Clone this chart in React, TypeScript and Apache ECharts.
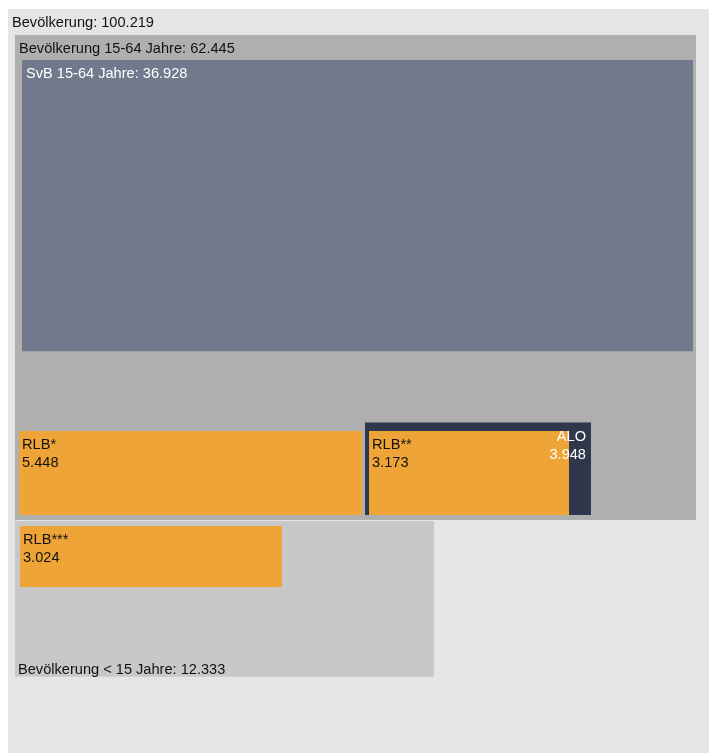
import React, { useEffect, useRef } from "react";
import * as echarts from "echarts";

// ---- data ----
const names = [
  "Bevölkerung",
  "Bevölkerung 15-64 Jahre",
  "SvB 15-64 Jahre",
  "RLB*",
  "ALO",
  "RLB**",
  "Bevölkerung < 15 Jahre",
  "RLB***",
];
const values = [100.219, 62.445, 36.928, 5.448, 3.948, 3.173, 12.333, 3.024];

// ---- layout (grid px units): left, top, width; height derives from value ----
const AREA_PER_UNIT = 5290; // px² per value unit
const lefts = [0, 7, 14, 11, 357, 361, 7, 12];
const tops = [0, 26, 51, 422, 413.5, 422, 512, 517];
const widths = [701, 681, 671, 343, 226, 200, 419, 262];
// label modes: "inline-tl" = "name: value" top-left, "inline-bl" bottom-left, "stack-tl" two lines top-left, "stack-tr" two lines top-right
const labelModes = ["inline-tl", "inline-tl", "inline-tl", "stack-tl", "stack-tr", "stack-tl", "inline-bl", "stack-tl"];
const fills = ["#e5e5e5", "#afafaf", "#717a8d", "#eea437", "#2f374c", "#eea437", "#c8c8c8", "#eea437"];
const textColors = ["#111", "#111", "#fff", "#111", "#fff", "#111", "#111", "#111"];

const FONT = "'Liberation Sans', Arial, sans-serif";
const FS = 14.6;

export default function App() {
  const ref = useRef<HTMLDivElement>(null);
  useEffect(() => {
    if (!ref.current) return;
    const chart = echarts.init(ref.current, undefined, { renderer: "svg" });
    const data = values.map((v, i) => [lefts[i], tops[i], widths[i], v]);
    chart.setOption({
      animation: false,
      grid: { left: 8, top: 9, width: 701, height: 744 },
      xAxis: { type: "value", min: 0, max: 701, show: false },
      yAxis: { type: "value", min: 0, max: 744, inverse: true, show: false },
      series: [
        {
          type: "custom",
          clip: false,
          data,
          renderItem: (params: any, api: any) => {
            const i = params.dataIndex;
            const x = api.value(0);
            const y = api.value(1);
            const w = api.value(2);
            const v = api.value(3);
            const h = (v * AREA_PER_UNIT) / w;
            const p0 = api.coord([x, y]);
            const p1 = api.coord([x + w, y + h]);
            const vs = v.toFixed(3);
            const mode = labelModes[i];
            let text: any;
            const base = {
              fill: textColors[i],
              fontSize: FS,
              fontFamily: FONT,
              lineHeight: 18,
            };
            if (mode === "inline-tl") {
              text = { type: "text", z2: 100, style: { ...base, text: `${names[i]}: ${vs}`, x: p0[0] + 4, y: p0[1] + 13, align: "left", verticalAlign: "middle" } };
            } else if (mode === "inline-bl") {
              text = { type: "text", z2: 100, style: { ...base, text: `${names[i]}: ${vs}`, x: p0[0] + 3, y: p1[1] - 8, align: "left", verticalAlign: "middle" } };
            } else if (mode === "stack-tl") {
              text = { type: "text", z2: 100, style: { ...base, text: `${names[i]}\n${vs}`, x: p0[0] + 3, y: p0[1] + 4, align: "left", verticalAlign: "top" } };
            } else {
              text = { type: "text", z2: 100, style: { ...base, text: `${names[i]}\n${vs}`, x: p1[0] - 5, y: p0[1] + 4, align: "right", verticalAlign: "top" } };
            }
            return {
              type: "group",
              children: [
                {
                  type: "rect",
                  z2: i,
                  shape: { x: p0[0], y: p0[1], width: p1[0] - p0[0], height: p1[1] - p0[1] },
                  style: { fill: fills[i] },
                },
                text,
              ],
            };
          },
        },
      ],
    });
    return () => chart.dispose();
  }, []);
  return (
    <div
      ref={ref}
      style={{ position: "fixed", left: 0, top: 0, width: 709, height: 753 }}
    />
  );
}
